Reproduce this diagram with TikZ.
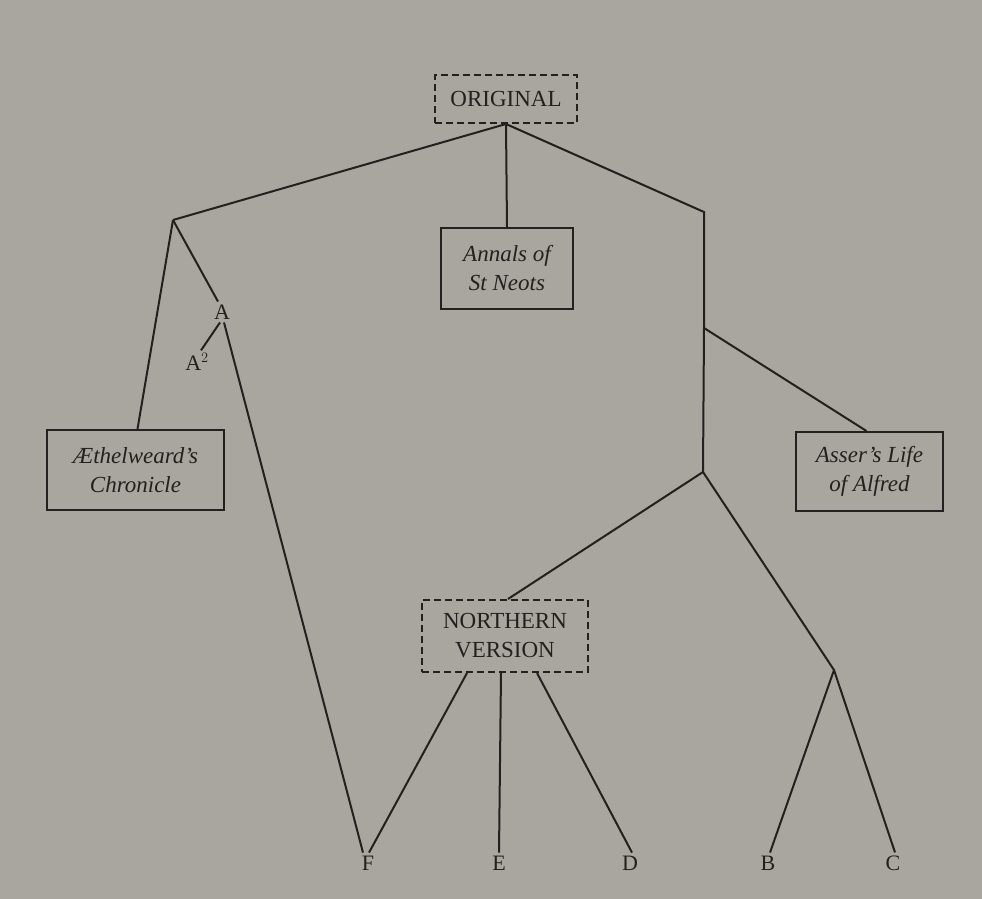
\documentclass[tikz,border=0pt]{standalone}
\usepackage{fontspec}
\setmainfont{Liberation Serif}
\usetikzlibrary{calc}
\definecolor{paper}{RGB}{168,166,158}
\definecolor{ink}{RGB}{34,33,31}
\begin{document}
\begin{tikzpicture}[x=1pt,y=-1pt,
  every node/.style={text=ink,font=\fontsize{23}{29}\selectfont},
  conn/.style={draw=ink,line width=2pt},
  solidbox/.style={draw=ink,line width=2pt,align=center,inner sep=0pt,font=\fontsize{23}{29}\selectfont\itshape},
  dashbox/.style={draw=ink,line width=2pt,dash pattern=on 7pt off 4pt,align=center,inner sep=0pt},
  leaf/.style={inner sep=3pt,font=\fontsize{22}{24}\selectfont}]
\fill[paper] (0,0) rectangle (982,899);
\useasboundingbox (0,0) rectangle (982,899);

\node[dashbox,minimum width=142pt,minimum height=48pt] (orig) at (506,99) {ORIGINAL};
\node[solidbox,minimum width=132pt,minimum height=81pt] (annals) at (507,268.5) {Annals of\\St Neots};
\node[solidbox,minimum width=177pt,minimum height=80pt] (aeth) at (135.5,470) {\AE thelweard's\\Chronicle};
\node[solidbox,minimum width=147pt,minimum height=79pt] (asser) at (869.5,471.5) {Asser's Life\\of Alfred};
\node[dashbox,minimum width=166pt,minimum height=72pt] (north) at (505,636) {NORTHERN\\VERSION};

\node[leaf] (A) at (222,312) {A};
\node[leaf] (A2) at (197,362) {A$^{2}$};
\node[leaf] (F) at (368,863) {F};
\node[leaf] (E) at (499,863) {E};
\node[leaf] (D) at (630,863) {D};
\node[leaf] (B) at (768,863) {B};
\node[leaf] (C) at (893,863) {C};

\coordinate (jL) at (173,220);
\coordinate (jR) at (704,212);
\coordinate (jAs) at (704,328);
\coordinate (jN) at (703,472);
\coordinate (jBC) at (834,670);

\draw[conn] (jL) -- (orig.south) -- (jR) -- (jAs) -- (jN);
\draw[conn] (orig.south) -- (annals.north);
\draw[conn] (jL) -- ([xshift=2pt]aeth.north);
\draw[conn] (jL) -- ([xshift=-4pt]A.north);
\draw[conn] ([xshift=-2pt]A.south) -- ([xshift=4pt]A2.north);
\draw[conn] ([xshift=2pt]A.south) -- ([xshift=-5pt]F.north);
\draw[conn] (jAs) -- ([xshift=-3pt]asser.north);
\draw[conn] (jN) -- ([xshift=3pt]north.north);
\draw[conn] (jN) -- (jBC) -- ([xshift=2pt]B.north);
\draw[conn] (jBC) -- ([xshift=2pt]C.north);
\draw[conn] ([xshift=-38pt]north.south) -- ([xshift=1pt]F.north);
\draw[conn] ([xshift=-4pt]north.south) -- (E.north);
\draw[conn] ([xshift=32pt]north.south) -- ([xshift=2pt]D.north);
\end{tikzpicture}
\end{document}
